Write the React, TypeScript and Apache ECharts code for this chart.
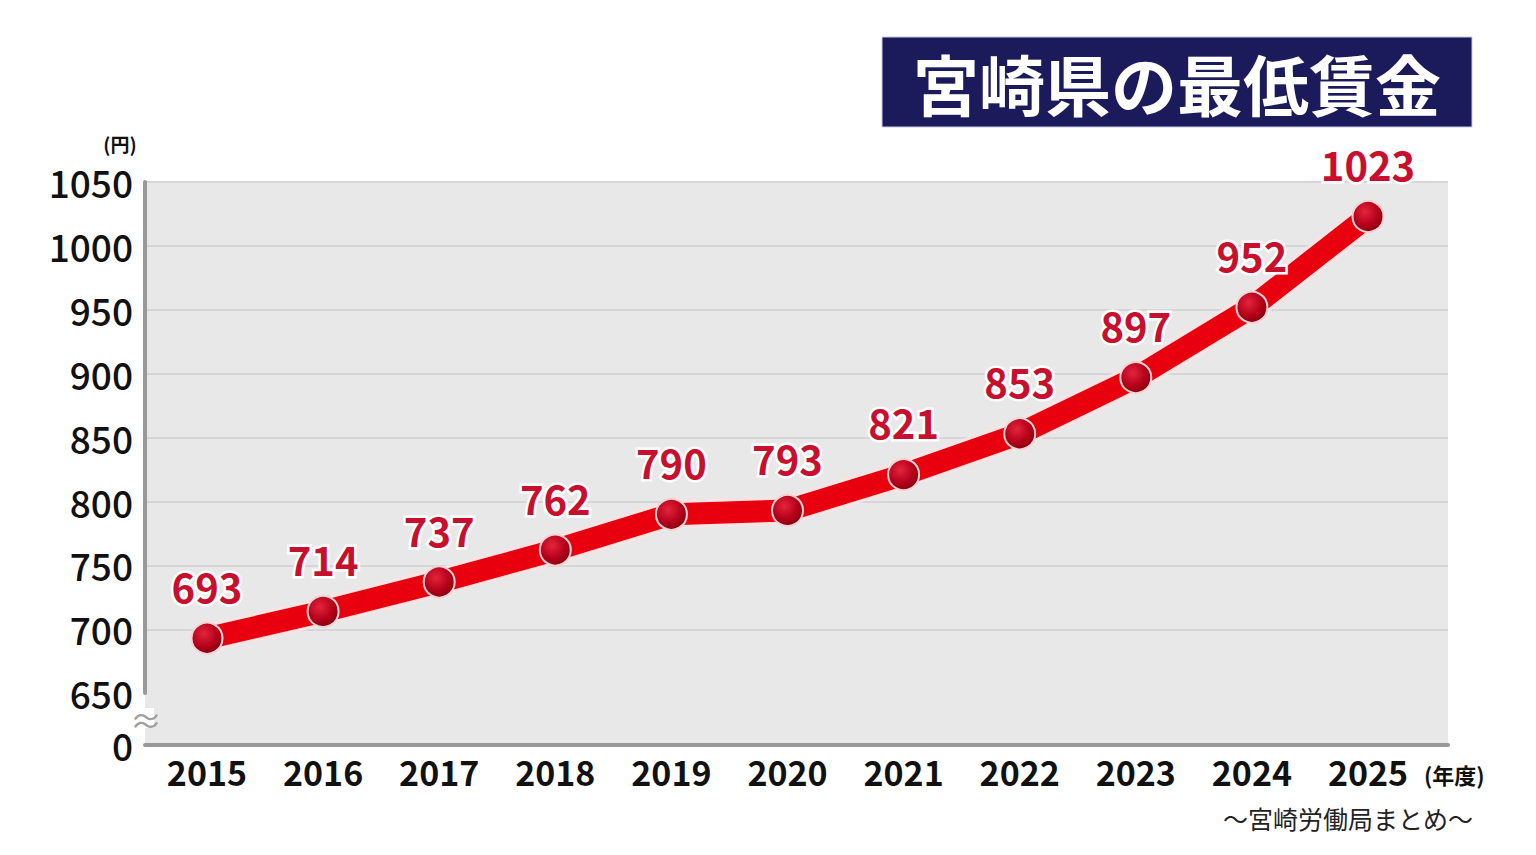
import React, { useEffect, useRef } from "react";
import * as echarts from "echarts";

// 年度と最低賃金（円）
const years = [2015, 2016, 2017, 2018, 2019, 2020, 2021, 2022, 2023, 2024, 2025];
const wages = [693, 714, 737, 762, 790, 793, 821, 853, 897, 952, 1023];
const yTicks = [0, 650, 700, 750, 800, 850, 900, 950, 1000, 1050];

const FONT = '"Noto Sans CJK JP", "Noto Sans", sans-serif';

export default function App() {
	const chartRef = useRef<HTMLDivElement>(null);

	useEffect(() => {
		if (!chartRef.current) return;
		const chart = echarts.init(chartRef.current, null, { renderer: "svg" });

		const points = years.map((y, i) => [y, wages[i]]);

		const option: any = {
			animation: false,
			backgroundColor: "#ffffff",
			textStyle: { fontFamily: FONT },
			grid: {
				left: 145,
				right: 88,
				top: 182,
				bottom: 110,
				show: true,
				backgroundColor: "#e8e8e8",
				borderWidth: 0,
			},
			xAxis: {
				type: "value",
				min: 2014.466,
				max: 2025.689,
				splitLine: { show: false },
				axisTick: { show: false },
				axisLine: { show: true, onZero: false, lineStyle: { color: "#999999", width: 4 } },
				axisLabel: {
					customValues: years,
					margin: 9,
					color: "#111111",
					fontSize: 34,
					fontWeight: "bold",
					fontFamily: FONT,
					formatter: (v: number) => String(v),
				},
			},
			yAxis: {
				type: "value",
				min: 0,
				max: 1050,
				interval: 50,
				breaks: [{ start: 0, end: 650, gap: "9.2%" }],
				breakArea: { show: false },
				axisTick: { show: false },
				axisLine: { show: true, lineStyle: { color: "#999999", width: 4 } },
				splitLine: { show: true, lineStyle: { color: "#d6d6d6", width: 2 } },
				axisLabel: {
					customValues: yTicks,
					margin: 12,
					color: "#111111",
					fontSize: 37,
					fontWeight: 500,
					fontFamily: FONT,
					formatter: (v: number) => String(v),
				},
			},
			graphic: [
				{
					type: "rect",
					shape: { x: 882, y: 37, width: 590, height: 90 },
					style: { fill: "#1b1b5c", stroke: "#c9cbe0", lineWidth: 1 },
				},
				{
					type: "text",
					x: 1177,
					y: 82,
					style: {
						text: "宮崎県の最低賃金",
						fill: "#ffffff",
						fontSize: 66,
						fontWeight: "bold",
						fontFamily: FONT,
						align: "center",
						verticalAlign: "middle",
					},
				},
				{
					type: "text",
					x: 120,
					y: 143,
					style: {
						text: "(円)",
						fill: "#111111",
						fontSize: 19,
						fontWeight: "bold",
						fontFamily: FONT,
						align: "center",
						verticalAlign: "middle",
					},
				},
				{
					type: "rect",
					z: 100,
					shape: { x: 138, y: 708, width: 16, height: 20 },
					style: { fill: "#ffffff" },
				},
				{
					type: "text",
					z: 101,
					x: 146,
					y: 719,
					style: {
						text: "≈",
						fill: "#a0a0a0",
						fontSize: 32,
						fontFamily: FONT,
						align: "center",
						verticalAlign: "middle",
					},
				},
				{
					type: "text",
					x: 1424,
					y: 774,
					style: {
						text: "(年度)",
						fill: "#111111",
						fontSize: 22,
						fontWeight: "bold",
						fontFamily: FONT,
						align: "left",
						verticalAlign: "middle",
					},
				},
				{
					type: "text",
					x: 1348,
					y: 818,
					style: {
						text: "～宮崎労働局まとめ～",
						fill: "#222222",
						fontSize: 25,
						fontFamily: FONT,
						align: "center",
						verticalAlign: "middle",
					},
				},
			],
			series: [
				{
					// 白い縁取り
					type: "line",
					data: points,
					symbol: "none",
					silent: true,
					lineStyle: { color: "#fbe3e3", width: 28, cap: "round", join: "round" },
					z: 2,
				},
				{
					type: "line",
					data: points,
					symbol: "circle",
					symbolSize: 31,
					lineStyle: { color: "#e8000f", width: 22, cap: "round", join: "round" },
					itemStyle: {
						color: new echarts.graphic.RadialGradient(0.4, 0.35, 0.7, [
							{ offset: 0, color: "#e3253b" },
							{ offset: 0.6, color: "#b5001a" },
							{ offset: 1, color: "#7d0010" },
						]),
						borderColor: "#f6d2d2",
						borderWidth: 2,
					},
					label: {
						show: true,
						position: "top",
						distance: 16,
						color: "#c8102e",
						fontSize: 40,
						fontWeight: "bold",
						fontFamily: FONT,
						textBorderColor: "#ffffff",
						textBorderWidth: 5,
						formatter: (p: any) => String(p.value[1]),
					},
					z: 3,
				},
			],
		};

		chart.setOption(option);
		const handleResize = () => chart.resize();
		window.addEventListener("resize", handleResize);
		return () => {
			window.removeEventListener("resize", handleResize);
			chart.dispose();
		};
	}, []);

	return (
		<div
			ref={chartRef}
			style={{ position: "fixed", left: 0, top: 0, width: 1536, height: 855 }}
		/>
	);
}
